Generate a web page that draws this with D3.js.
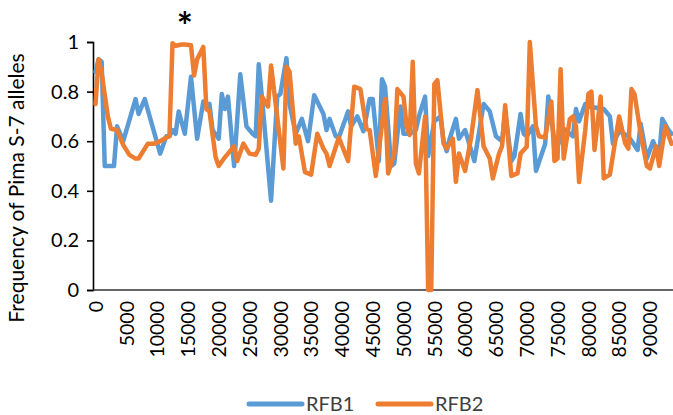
<html>
<head>
<script src="https://cdn.jsdelivr.net/npm/d3@7"></script>
<style>
  body { margin: 0; background: #fff; }
  text { font-family: Lato, "Open Sans", sans-serif; }
</style>
</head>
<body>
<div id="chart"></div>
<script>
// positions along the region and allele frequency per series
var rfb1X = [0, 500, 1000, 1500, 3000, 3500, 4500, 6500, 7000, 8000, 10500, 11500, 12000, 12500, 13000, 13500, 14500, 15500, 16500, 17500,
  18000, 18500, 19000, 20000, 20500, 21000, 21500, 22500, 23500, 24500, 25500, 26000, 26500, 27000, 27500, 28500, 29500, 30000, 31000, 31500,
  32500, 33500, 34500, 35500, 37000, 37500, 38000, 39000, 39500, 41000, 41500, 42500, 43500, 44500, 45000, 46000, 46500, 47000, 48000, 48500,
  49500, 50000, 51000, 52000, 52500, 53500, 54000, 55000, 56000, 56500, 57000, 57500, 58500, 59000, 60000, 61500, 63000, 64000, 65000, 66000,
  66500, 67500, 68000, 69000, 69500, 70000, 71000, 71500, 73000, 73500, 74500, 75000, 76000, 77500, 78000, 78500, 79500, 80000, 82500, 83500,
  84000, 85000, 86500, 88000, 88500, 89500, 90500, 91500, 92000, 93000, 93500];
var rfb1Y = [0.88, 0.93, 0.92, 0.50, 0.50, 0.66, 0.60, 0.77, 0.71, 0.77, 0.55, 0.62, 0.62, 0.645, 0.63, 0.72, 0.63, 0.86, 0.61, 0.76,
  0.74, 0.75, 0.645, 0.61, 0.79, 0.73, 0.78, 0.50, 0.87, 0.66, 0.63, 0.62, 0.91, 0.78, 0.64, 0.36, 0.78, 0.79, 0.935, 0.75,
  0.63, 0.69, 0.60, 0.785, 0.71, 0.645, 0.69, 0.62, 0.615, 0.72, 0.66, 0.70, 0.64, 0.77, 0.77, 0.52, 0.85, 0.82, 0.50, 0.51,
  0.74, 0.63, 0.63, 0.645, 0.70, 0.78, 0.54, 0.68, 0.70, 0.60, 0.56, 0.61, 0.69, 0.61, 0.645, 0.52, 0.75, 0.72, 0.62, 0.60,
  0.72, 0.52, 0.54, 0.71, 0.63, 0.62, 0.66, 0.48, 0.59, 0.78, 0.60, 0.58, 0.65, 0.62, 0.73, 0.68, 0.75, 0.74, 0.73, 0.70,
  0.59, 0.64, 0.62, 0.565, 0.67, 0.53, 0.60, 0.54, 0.69, 0.645, 0.63];

var rfb2X = [0, 500, 1000, 2000, 2500, 3500, 4500, 5500, 6500, 7000, 8500, 9500, 10500, 11500, 12000, 12500, 13000, 14000, 14500, 15500,
  16000, 16500, 17500, 18000, 18500, 19500, 20000, 21000, 22500, 23000, 24000, 25000, 26000, 26500, 27000, 28000, 28500, 30500, 31000, 31500,
  32500, 33000, 34000, 35000, 36000, 37000, 37500, 38000, 39500, 41000, 42000, 43000, 44000, 44500, 45500, 47000, 47500, 48500, 49000, 50000,
  50500, 51000, 51500, 52000, 52500, 53500, 54000, 54500, 55000, 55500, 56500, 57000, 58000, 58500, 59000, 60000, 61000, 62000, 63000, 64000,
  64500, 65500, 66000, 66500, 67500, 68500, 69000, 70000, 70500, 71500, 72000, 73000, 74000, 74500, 75000, 75500, 76000, 77000, 77500, 78000,
  78500, 79500, 80000, 80500, 81000, 82000, 82500, 83500, 85000, 86000, 86500, 87000, 87500, 88500, 89500, 90000, 91000, 91500, 92500, 93500];
var rfb2Y = [0.75, 0.93, 0.875, 0.70, 0.65, 0.645, 0.585, 0.545, 0.53, 0.53, 0.59, 0.59, 0.60, 0.615, 0.62, 0.995, 0.985, 0.99, 0.99, 0.987,
  0.865, 0.93, 0.98, 0.73, 0.72, 0.535, 0.50, 0.535, 0.58, 0.52, 0.59, 0.55, 0.545, 0.57, 0.78, 0.74, 0.905, 0.49, 0.90, 0.88,
  0.59, 0.62, 0.475, 0.465, 0.63, 0.57, 0.55, 0.50, 0.615, 0.52, 0.82, 0.81, 0.65, 0.645, 0.46, 0.77, 0.47, 0.55, 0.81, 0.78,
  0.66, 0.625, 0.92, 0.51, 0.47, 0.70, 0, 0, 0.83, 0.846, 0.59, 0.57, 0.61, 0.436, 0.55, 0.48, 0.62, 0.806, 0.58, 0.53,
  0.45, 0.55, 0.58, 0.745, 0.46, 0.47, 0.55, 0.578, 1.0, 0.66, 0.62, 0.615, 0.76, 0.52, 0.53, 0.89, 0.53, 0.69, 0.70, 0.66,
  0.435, 0.645, 0.79, 0.80, 0.565, 0.78, 0.45, 0.465, 0.70, 0.59, 0.57, 0.81, 0.79, 0.63, 0.50, 0.49, 0.58, 0.50, 0.66, 0.59];

var xTicks = [0, 5000, 10000, 15000, 20000, 25000, 30000, 35000, 40000, 45000,
  50000, 55000, 60000, 65000, 70000, 75000, 80000, 85000, 90000];
var yTicks = [0, 0.2, 0.4, 0.6, 0.8, 1];
var seriesNames = ["RFB1", "RFB2"];
var colors = ["#5B9BD5", "#ED7D31"];

var W = 673, H = 415;
var svg = d3.select("#chart").append("svg").attr("width", W).attr("height", H);

var x = d3.scaleLinear().domain([0, 93500]).range([95.5, 671.5]);
var y = d3.scaleLinear().domain([0, 1]).range([290, 42]);

// y axis
var yAxis = svg.append("g").attr("transform", "translate(93,0)")
  .call(d3.axisLeft(y).tickValues(yTicks).tickSize(6).tickPadding(8)
    .tickFormat(function(d) { return d === 0 || d === 1 ? d : d3.format(".1f")(d); }));
yAxis.select(".domain").attr("stroke", "#000").attr("stroke-width", 1.6);
yAxis.selectAll(".tick line").attr("stroke", "#000").attr("stroke-width", 1.6);
yAxis.selectAll("text").attr("font-size", 20).attr("fill", "#000");

// x axis
var xAxis = svg.append("g").attr("transform", "translate(0,290)")
  .call(d3.axisBottom(x).tickValues(xTicks).tickSize(0).tickFormat(d3.format("d")));
xAxis.select(".domain").attr("d", "M93,0H673").attr("stroke", "#333").attr("stroke-width", 1.6);
xAxis.selectAll("text")
  .attr("font-size", 19.5).attr("fill", "#000")
  .attr("transform", "rotate(-90)")
  .attr("x", -11).attr("y", 0).attr("dy", "0.35em")
  .style("text-anchor", "end");

// y axis title
svg.append("text")
  .attr("transform", "translate(24,188) rotate(-90)")
  .attr("text-anchor", "middle")
  .attr("font-size", 21)
  .text("Frequency of Pima S-7 alleles");

// lines
var line = d3.line()
  .x(function(d) { return x(d[0]); })
  .y(function(d) { return y(d[1]); });

[[rfb1X, rfb1Y], [rfb2X, rfb2Y]].forEach(function(s, i) {
  svg.append("path")
    .datum(d3.zip(s[0], s[1]))
    .attr("d", line)
    .attr("fill", "none")
    .attr("stroke", colors[i])
    .attr("stroke-width", 4.5)
    .attr("stroke-linejoin", "round")
    .attr("stroke-linecap", "round");
});

// asterisk marking the region
svg.append("text")
  .attr("x", x(14500)).attr("y", 40)
  .attr("text-anchor", "middle")
  .attr("font-size", 38).attr("font-weight", "bold")
  .text("*");

// legend
var legendX = [249, 378];
seriesNames.forEach(function(name, i) {
  svg.append("line")
    .attr("x1", legendX[i]).attr("x2", legendX[i] + 53)
    .attr("y1", 404).attr("y2", 404)
    .attr("stroke", colors[i]).attr("stroke-width", 5)
    .attr("stroke-linecap", "round");
  svg.append("text")
    .attr("x", legendX[i] + 57).attr("y", 411)
    .attr("font-size", 20).attr("fill", "#404040")
    .text(name);
});
</script>
</body>
</html>
